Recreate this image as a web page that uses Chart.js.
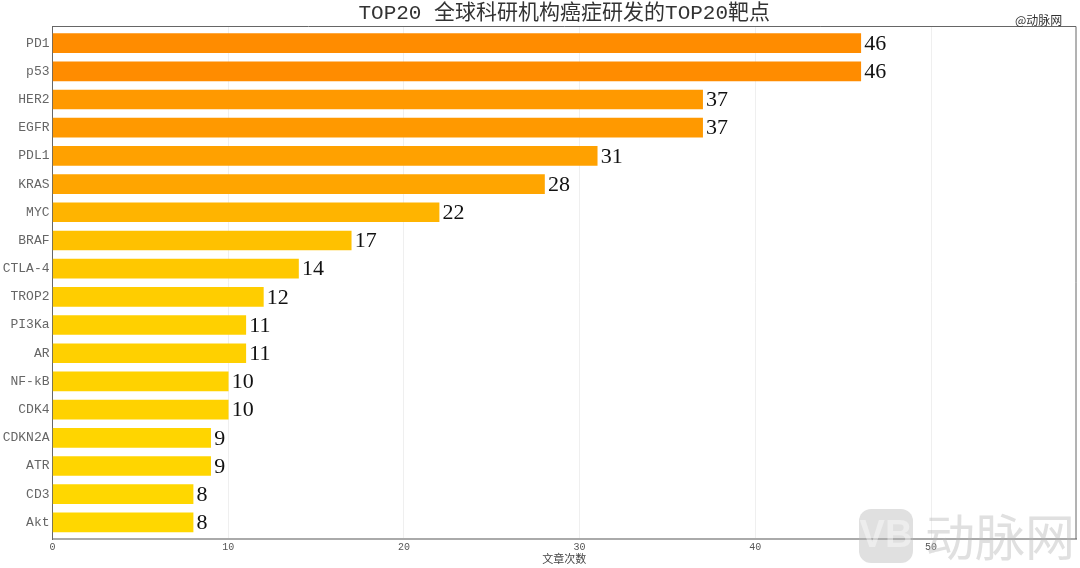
<!DOCTYPE html>
<html>
<head>
<meta charset="utf-8">
<title>TOP20 靶点</title>
<script src="https://cdn.jsdelivr.net/npm/chart.js@4/dist/chart.umd.min.js"></script>
<style>
  html, body { margin: 0; padding: 0; background: #fff; }
  #chart { display: block; }
</style>
</head>
<body>
<canvas id="chart" width="1080" height="568"></canvas>
<script>
// -------- Data ----------
const categories = ["PD1","p53","HER2","EGFR","PDL1","KRAS","MYC","BRAF","CTLA-4","TROP2","PI3Ka","AR","NF-kB","CDK4","CDKN2A","ATR","CD3","Akt"];
const counts = [46,46,37,37,31,28,22,17,14,12,11,11,10,10,9,9,8,8];
const xTicks = [0,10,20,30,40,50];
const titleText = "TOP20 全球科研机构癌症研发的TOP20靶点";
const xTitle = "文章次数";

const MONO = '"Liberation Mono","Noto Sans CJK SC",monospace';
const SERIF = '"Liberation Serif","Noto Sans CJK SC",serif';

// colour runs gold (8) -> orange (28) -> dark orange (46) with the value
function barColor(v) {
  const g = v <= 28 ? 215 - (v - 8) * 2.5 : 165 - (v - 28) * 25 / 18;
  return `rgb(255,${Math.round(g)},0)`;
}

// -------- Plugins ----------
const extras = {
  id: "extras",
  afterDatasetsDraw(chart) {
    const { ctx, chartArea: a, scales } = chart;
    // value labels
    ctx.save();
    ctx.font = `22px ${SERIF}`;
    ctx.fillStyle = "#111";
    ctx.textAlign = "left";
    ctx.textBaseline = "middle";
    counts.forEach((v, i) => {
      ctx.fillText(v, scales.x.getPixelForValue(v) + 3.5, scales.y.getPixelForValue(i) + 1);
    });
    // top and right frame
    ctx.strokeStyle = "#666";
    ctx.lineWidth = 1;
    ctx.beginPath();
    ctx.moveTo(a.left, a.top);
    ctx.lineTo(a.right, a.top);
    ctx.lineTo(a.right, a.bottom);
    ctx.stroke();
    ctx.restore();
  },
  afterDraw(chart) {
    const { ctx } = chart;
    ctx.save();
    // small source tag
    ctx.font = `12px "Noto Sans CJK SC",sans-serif`;
    ctx.fillStyle = "#333";
    ctx.textAlign = "left";
    ctx.textBaseline = "middle";
    ctx.fillText("@动脉网", 1015, 20);
    // watermark
    ctx.globalAlpha = 0.42;
    ctx.fillStyle = "#b4b4b4";
    ctx.beginPath();
    ctx.roundRect(859, 509, 54, 54, 12);
    ctx.fill();
    ctx.fillStyle = "#fff";
    ctx.font = `bold 38px "Liberation Sans",sans-serif`;
    ctx.textAlign = "center";
    ctx.fillText("VB", 886, 537);
    ctx.fillStyle = "#b4b4b4";
    ctx.font = `50px "Noto Sans CJK SC",sans-serif`;
    ctx.textAlign = "left";
    ctx.fillText("动脉网", 925, 537);
    ctx.restore();
  }
};

// -------- Chart ----------
new Chart(document.getElementById("chart"), {
  type: "bar",
  data: {
    datasets: [{
      data: counts.map((v, i) => ({ x: v, y: i })),
      backgroundColor: counts.map(barColor),
      barThickness: 19,
      borderWidth: 0
    }]
  },
  options: {
    indexAxis: "y",
    responsive: false,
    animation: false,
    layout: { padding: { left: 0, right: 4, top: 0, bottom: 0 } },
    plugins: {
      legend: { display: false },
      tooltip: { enabled: false },
      title: {
        display: true,
        text: titleText,
        fullSize: false,
        color: "#333",
        font: { family: MONO, size: 21, weight: "normal" },
        padding: { top: 1, bottom: 0.3 }
      }
    },
    scales: {
      x: {
        type: "linear",
        min: 0,
        max: 58.25,
        afterBuildTicks(s) { s.ticks = xTicks.map(v => ({ value: v })); },
        afterFit(s) { s.height = 29; },
        grid: { color: "#efefef", lineWidth: 1, drawTicks: false },
        border: { color: "#aaa", width: 2 },
        ticks: { color: "#555", font: { family: MONO, size: 10 }, padding: 2, maxRotation: 0 },
        title: { display: true, text: xTitle, color: "#444", font: { family: MONO, size: 11 }, padding: { top: 0, bottom: 1 } }
      },
      y: {
        type: "linear",
        reverse: true,
        offset: false,
        min: -0.59,
        max: 17.59,
        afterBuildTicks(s) { s.ticks = categories.map((c, i) => ({ value: i })); },
        afterFit(s) { s.width = 52.5; },
        grid: { display: false, drawTicks: false, offset: false },
        border: { color: "#666", width: 1 },
        ticks: {
          color: "#666",
          font: { family: MONO, size: 13 },
          padding: 3,
          autoSkip: false,
          callback: (v) => categories[v]
        }
      }
    }
  },
  plugins: [extras]
});
</script>
</body>
</html>
